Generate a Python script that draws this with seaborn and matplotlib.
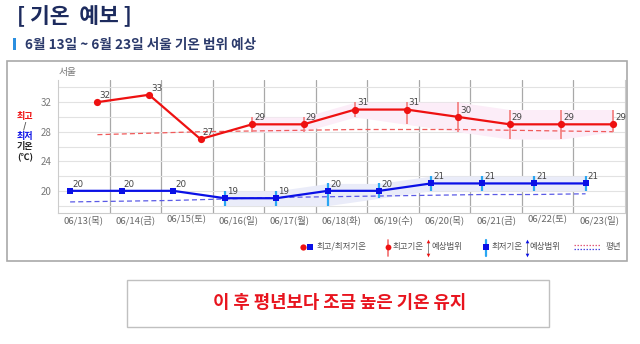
import matplotlib
matplotlib.use("Agg")
import numpy as np
import pandas as pd
import matplotlib.pyplot as plt
from matplotlib.patches import Rectangle
from matplotlib.lines import Line2D
import seaborn as sns

# ---- data ----
dates = ["06/13(목)", "06/14(금)", "06/15(토)", "06/16(일)", "06/17(월)", "06/18(화)",
         "06/19(수)", "06/20(목)", "06/21(금)", "06/22(토)", "06/23(일)"]
tmax = [32, 33, 27, 29, 29, 31, 31, 30, 29, 29, 29]
tmin = [20, 20, 20, 19, 19, 20, 20, 21, 21, 21, 21]
# forecast ranges (given from 06/16 on)
tmax_lo = [np.nan, np.nan, np.nan, 28, 28, 30, 29, 28, 27, 27, 28]
tmax_hi = [np.nan, np.nan, np.nan, 30, 30, 32, 32, 32, 31, 31, 31]
tmin_lo = [np.nan, np.nan, np.nan, 18, 18, 18, 19, 20, 20, 20, 20]
tmin_hi = [np.nan, np.nan, np.nan, 20, 20, 21, 21, 22, 22, 22, 22]
normal_max = [27.6, 27.8, 28.0, 28.1, 28.2, 28.3, 28.3, 28.3, 28.2, 28.1, 28.0]
normal_min = [18.5, 18.6, 18.7, 18.9, 19.1, 19.2, 19.3, 19.4, 19.5, 19.5, 19.6]
yticks = [20, 24, 28, 32]

RED = "#ee1111"
BLUE = "#0a10e6"
RED_BAR = "#f37b7b"
BLUE_BAR = "#2aa6f2"
NAVY = "#1d2b5e"

sns.set_theme(style="white")
plt.rcParams["font.family"] = ["Noto Sans CJK KR", "DejaVu Sans"]

W, H = 640, 344
fig = plt.figure(figsize=(W / 100, H / 100), dpi=100)


def fx(px):
    return px / W


def fy(py):
    return 1 - py / H


# plot area
ax = fig.add_axes([fx(58), fy(213), fx(625) - fx(58), fy(80) - fy(213)])

idx = np.arange(len(dates))
off = 0.265
df = pd.DataFrame({
    "xr": idx + off, "xb": idx - off,
    "tmax": tmax, "tmin": tmin,
    "max_lo": tmax_lo, "max_hi": tmax_hi,
    "min_lo": tmin_lo, "min_hi": tmin_hi,
    "nmax": normal_max, "nmin": normal_min,
})
rng = df.dropna(subset=["max_lo"])

# range bands
ax.fill_between(rng["xr"], rng["max_lo"], rng["max_hi"], color="#fcedf8",
                lw=0, zorder=1)
ax.fill_between(rng["xb"], rng["min_lo"], rng["min_hi"], color="#eaecf9",
                lw=0, zorder=1)

# climatological normals
sns.lineplot(data=df, x="xr", y="nmax", ax=ax, color="#f05a5a", lw=0.9,
             linestyle=(0, (4, 2.5)), zorder=2)
sns.lineplot(data=df, x="xb", y="nmin", ax=ax, color="#5a5ae6", lw=0.9,
             linestyle=(0, (4, 2.5)), zorder=2)

# forecast range bars
ax.vlines(rng["xr"], rng["max_lo"], rng["max_hi"], color=RED_BAR, lw=1.2, zorder=3)
ax.vlines(rng["xb"], rng["min_lo"], rng["min_hi"], color=BLUE_BAR, lw=1.6, zorder=3)

# forecast max / min
sns.lineplot(data=df, x="xr", y="tmax", ax=ax, color=RED, lw=1.6, marker="o",
             markersize=5.2, markeredgewidth=0, zorder=4)
sns.lineplot(data=df, x="xb", y="tmin", ax=ax, color=BLUE, lw=1.6, marker="s",
             markersize=5.0, markeredgewidth=0, zorder=4)

for x, v in zip(df["xr"], df["tmax"]):
    ax.annotate(f"{v}", (x, v), xytext=(1.5, 1.5), textcoords="offset points",
                ha="left", va="bottom", fontsize=6.3, color="#444444", zorder=5,
                family="DejaVu Sans")
for x, v in zip(df["xb"], df["tmin"]):
    ax.annotate(f"{v}", (x, v), xytext=(1.5, 1.5), textcoords="offset points",
                ha="left", va="bottom", fontsize=6.3, color="#444444", zorder=5,
                family="DejaVu Sans")

ax.set_xlim(-0.5, len(dates) - 0.5)
ax.set_ylim(17, 35)
ax.set_xticks(idx)
ax.set_xticklabels(dates, fontsize=6.8, color="#666666")
ax.set_yticks(yticks)
ax.set_yticklabels([str(t) for t in yticks], fontsize=7, color="#777777")
ax.set_yticks(np.arange(18, 35, 2), minor=True)
ax.set_xticks(idx[:-1] + 0.5, minor=True)
ax.tick_params(axis="both", which="both", length=0)
ax.tick_params(axis="x", pad=1.5)
ax.tick_params(axis="y", pad=4.5)
ax.set_xlabel("")
ax.set_ylabel("")
ax.grid(False)
ax.grid(True, which="minor", axis="y", color="#e2e2e2", lw=0.8, zorder=0)
ax.grid(True, which="major", axis="y", color="#e2e2e2", lw=0.8, zorder=0)
ax.grid(True, which="minor", axis="x", color="#a8a8a8", lw=0.9, zorder=0)
for side, sp in ax.spines.items():
    sp.set_visible(True)
    sp.set_color("#cccccc")
    sp.set_linewidth(0.8)
ax.spines["top"].set_visible(False)
ax.set_axisbelow(True)

# ---- panel frame ----
fig.patches.append(Rectangle((fx(7), fy(261)), fx(627) - fx(7), fy(61) - fy(261),
                             transform=fig.transFigure, fill=False,
                             edgecolor="#a9a9a9", lw=1.2))

# ---- header ----
fig.text(fx(17), fy(16), "[ 기온  예보 ]", fontsize=15.5, fontweight="bold",
         color=NAVY, ha="left", va="center")
fig.patches.append(Rectangle((fx(13), fy(50)), fx(3), fy(38) - fy(50),
                             transform=fig.transFigure, color="#2b8fe0", lw=0))
fig.text(fx(25), fy(44.5), "6월 13일 ~ 6월 23일 서울 기온 범위 예상", fontsize=9.8,
         fontweight="bold", color="#2b3a6b", ha="left", va="center")

fig.text(fx(59), fy(72), "서울", fontsize=7, color="#777777", ha="left", va="center")

# y-axis caption
for txt, py, col in [("최고", 117, RED), ("/", 125.5, "#555555"), ("최저", 136, BLUE),
                     ("기온", 147, "#222222"), ("(℃)", 158, "#222222")]:
    fig.text(fx(25), fy(py), txt, fontsize=6.5, fontweight="bold", color=col,
             ha="center", va="center")

# ---- legend ----
LY = 246.5
LCOL = "#555555"
LFS = 6.1
fig.add_artist(Line2D([fx(303)], [fy(LY)], marker="o", color=RED, markersize=4.5,
                      markeredgewidth=0, transform=fig.transFigure))
fig.add_artist(Line2D([fx(310)], [fy(LY)], marker="s", color=BLUE, markersize=4.2,
                      markeredgewidth=0, transform=fig.transFigure))
fig.text(fx(317), fy(LY), "최고/최저기온", fontsize=LFS, color=LCOL, ha="left", va="center")

fig.add_artist(Line2D([fx(387.5)] * 2, [fy(240), fy(256)], color=RED_BAR, lw=1.3,
                      transform=fig.transFigure))
fig.add_artist(Line2D([fx(387.5)], [fy(LY)], marker="o", color=RED, markersize=4.2,
                      markeredgewidth=0, transform=fig.transFigure))
fig.text(fx(392.5), fy(LY), "최고기온", fontsize=LFS, color=LCOL, ha="left", va="center")
fig.add_artist(Line2D([fx(428)] * 2, [fy(241), fy(255)], color="#777777", lw=0.6,
                      transform=fig.transFigure))
fig.add_artist(Line2D([fx(428)], [fy(241)], marker="^", color=RED, markersize=2.6,
                      markeredgewidth=0, transform=fig.transFigure))
fig.add_artist(Line2D([fx(428)], [fy(255)], marker="v", color=RED, markersize=2.6,
                      markeredgewidth=0, transform=fig.transFigure))
fig.text(fx(431.5), fy(LY), "예상범위", fontsize=LFS, color=LCOL, ha="left", va="center")

fig.add_artist(Line2D([fx(486)] * 2, [fy(240), fy(256)], color=BLUE_BAR, lw=1.6,
                      transform=fig.transFigure))
fig.add_artist(Line2D([fx(486)], [fy(LY)], marker="s", color=BLUE, markersize=3.8,
                      markeredgewidth=0, transform=fig.transFigure))
fig.text(fx(491.5), fy(LY), "최저기온", fontsize=LFS, color=LCOL, ha="left", va="center")
fig.add_artist(Line2D([fx(526.5)] * 2, [fy(241), fy(255)], color="#777777", lw=0.6,
                      transform=fig.transFigure))
fig.add_artist(Line2D([fx(526.5)], [fy(241)], marker="^", color=BLUE, markersize=2.6,
                      markeredgewidth=0, transform=fig.transFigure))
fig.add_artist(Line2D([fx(526.5)], [fy(255)], marker="v", color=BLUE, markersize=2.6,
                      markeredgewidth=0, transform=fig.transFigure))
fig.text(fx(530), fy(LY), "예상범위", fontsize=LFS, color=LCOL, ha="left", va="center")

fig.add_artist(Line2D([fx(574), fx(601)], [fy(245)] * 2, color="#e05a7a", lw=0.9,
                      linestyle=(0, (1.2, 1.2)), transform=fig.transFigure))
fig.add_artist(Line2D([fx(574), fx(601)], [fy(248.5)] * 2, color="#4a4ae0", lw=0.9,
                      linestyle=(0, (1.2, 1.2)), transform=fig.transFigure))
fig.text(fx(606), fy(LY), "평년", fontsize=LFS, color=LCOL, ha="left", va="center")

# ---- summary box ----
fig.patches.append(Rectangle((fx(127), fy(327)), fx(549) - fx(127), fy(280) - fy(327),
                             transform=fig.transFigure, fill=False,
                             edgecolor="#c0c0c0", lw=1.0))
fig.text(fx(340), fy(303), "이 후 평년보다 조금 높은 기온 유지", fontsize=12.8,
         fontweight="bold", color="#e8141e", ha="center", va="center")

fig.savefig("out.png", dpi=100, facecolor="white")
